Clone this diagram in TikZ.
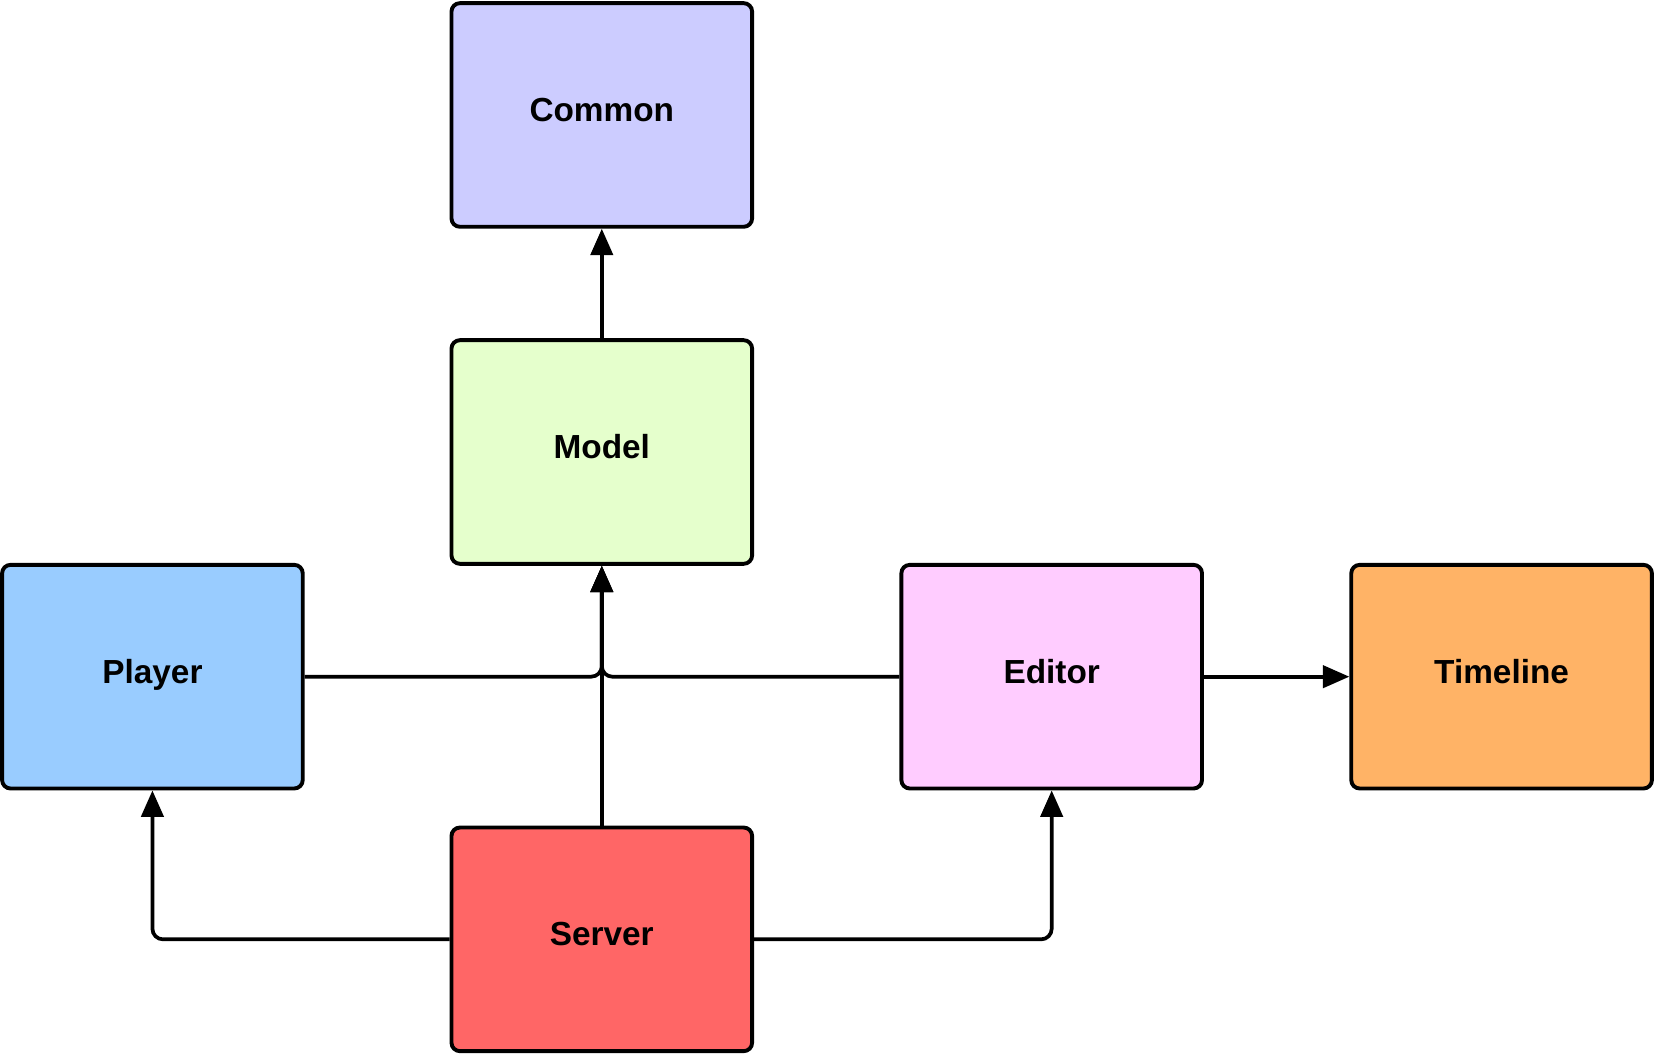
\documentclass[tikz,border=0pt]{standalone}
\usepackage{fontspec}
\setmainfont{Liberation Sans}
\usetikzlibrary{arrows.meta}
\definecolor{commonc}{HTML}{CCCCFF}
\definecolor{modelc}{HTML}{E5FFCC}
\definecolor{playerc}{HTML}{99CCFF}
\definecolor{editorc}{HTML}{FFCCFF}
\definecolor{timelinec}{HTML}{FFB366}
\definecolor{serverc}{HTML}{FF6666}
\begin{document}
\begin{tikzpicture}[scale=1,
        box/.style={draw,line width=2.1pt,rounded corners=0.16cm,
            minimum width=5.7cm,minimum height=4.24cm,text depth=0.2cm,
            font=\fontsize{18}{22}\selectfont\bfseries},
        dep/.style={line width=2pt,rounded corners=0.2cm,
            -{Triangle[length=0.5cm,width=0.42cm]}}]
    \useasboundingbox (0,0) rectangle (31.36,20);

    \node[box,fill=commonc]   (common)   at (11.41,17.82) {Common};
    \node[box,fill=modelc]    (model)    at (11.41,11.43) {Model};
    \node[box,fill=playerc]   (player)   at (2.89,7.17)   {Player};
    \node[box,fill=editorc]   (editor)   at (19.94,7.17)  {Editor};
    \node[box,fill=timelinec] (timeline) at (28.47,7.17)  {Timeline};
    \node[box,fill=serverc]   (server)   at (11.41,2.19)  {Server};

    \draw[dep] (model) -- (common);
    \draw[dep] (player.east) -| (model.south);
    \draw[dep] (editor.west) -| (model.south);
    \draw[dep] (server) -- (model);
    \draw[dep] (editor) -- (timeline);
    \draw[dep] (server.west) -| (player.south);
    \draw[dep] (server.east) -| (editor.south);
\end{tikzpicture}
\end{document}
